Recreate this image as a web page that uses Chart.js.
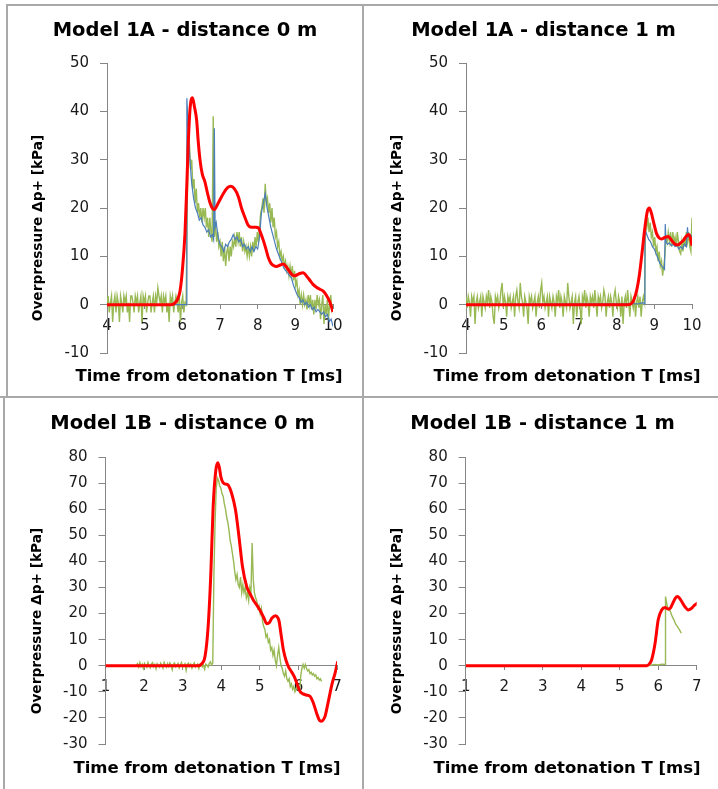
<!DOCTYPE html>
<html><head><meta charset="utf-8">
<script src="https://cdn.jsdelivr.net/npm/chart.js@4.4.1/dist/chart.umd.min.js"></script>
<style>
html,body{margin:0;padding:0;background:#fff;}
body{width:718px;height:789px;position:relative;overflow:hidden;font-family:'DejaVu Sans',sans-serif;}
canvas{position:absolute;display:block;}
.rule{position:absolute;background:#a9a9a9;}
.xt,.yt{position:absolute;font-weight:bold;color:#000;white-space:nowrap;line-height:1;}
.xt{font-size:16.5px;transform:translate(-50%,-50%);}
.yt{font-size:13.7px;transform:translate(-50%,-50%) rotate(-90deg);}
</style></head><body>
<canvas id="cA0" style="left:0;top:0" width="363" height="397"></canvas>
<canvas id="cA1" style="left:363px;top:0" width="355" height="397"></canvas>
<canvas id="cB0" style="left:0;top:397px" width="363" height="392"></canvas>
<canvas id="cB1" style="left:363px;top:397px" width="355" height="392"></canvas>

<div class="rule" style="left:6px;top:4px;width:712px;height:2px"></div>
<div class="rule" style="left:6px;top:4px;width:2px;height:393px"></div>
<div class="rule" style="left:0;top:396px;width:718px;height:2px"></div>
<div class="rule" style="left:362px;top:4px;width:2px;height:785px"></div>
<div class="rule" style="left:3px;top:397px;width:2px;height:392px"></div>

<div class="yt" style="left:38px;top:228px">Overpressure Δp+ [kPa]</div>
<div class="yt" style="left:397px;top:228px">Overpressure Δp+ [kPa]</div>
<div class="yt" style="left:37px;top:621px">Overpressure Δp+ [kPa]</div>
<div class="yt" style="left:397px;top:621px">Overpressure Δp+ [kPa]</div>
<div class="xt" style="left:209px;top:376px">Time from detonation T [ms]</div>
<div class="xt" style="left:567px;top:376px">Time from detonation T [ms]</div>
<div class="xt" style="left:207px;top:768px">Time from detonation T [ms]</div>
<div class="xt" style="left:567px;top:768px">Time from detonation T [ms]</div>

<script>
// ---------- Model 1A - distance 0 m ----------
const A0_RED_T = [4, 5.7, 5.8, 5.88, 5.94, 6.0, 6.07, 6.12, 6.16, 6.21, 6.27, 6.32, 6.38, 6.42, 6.47, 6.53, 6.6, 6.67, 6.73, 6.8, 6.85, 6.95, 7.09, 7.2, 7.29, 7.38, 7.49, 7.57, 7.66, 7.75, 7.84, 7.95, 8.02, 8.08, 8.15, 8.22, 8.28, 8.35, 8.42, 8.5, 8.6, 8.68, 8.78, 8.86, 8.93, 8.99, 9.1, 9.21, 9.3, 9.39, 9.47, 9.56, 9.65, 9.74, 9.82, 9.92, 10];
const A0_RED_P = [0, 0, 0.3, 1.2, 2.9, 7, 14.7, 25, 34, 41, 42.8, 41, 38.2, 34, 29.9, 27, 25.4, 23, 21.2, 19.9, 19.7, 21, 23, 24.2, 24.5, 24, 22.3, 20, 18.1, 16.4, 16, 16, 15.9, 14.8, 13.3, 11.5, 9.8, 8.6, 8.1, 7.9, 8.2, 8.4, 7.6, 6.7, 6.1, 6.0, 6.4, 6.6, 5.9, 5.0, 4.2, 3.6, 3.2, 2.8, 2.0, 0.5, -1.5];
const A0_BLUE_T = [4, 6.10, 6.12, 6.16, 6.2, 6.25, 6.3, 6.35, 6.4, 6.45, 6.5, 6.55, 6.6, 6.65, 6.7, 6.75, 6.8, 6.83, 6.85, 6.87, 6.9, 6.95, 7.0, 7.05, 7.1, 7.15, 7.2, 7.25, 7.3, 7.35, 7.4, 7.45, 7.5, 7.55, 7.6, 7.65, 7.7, 7.75, 7.8, 7.85, 7.9, 7.95, 8.0, 8.05, 8.1, 8.15, 8.2, 8.25, 8.3, 8.35, 8.4, 8.45, 8.5, 8.55, 8.6, 8.65, 8.7, 8.75, 8.8, 8.85, 8.9, 8.95, 9.0, 9.05, 9.1, 9.15, 9.2, 9.25, 9.3, 9.35, 9.4, 9.45, 9.5, 9.55, 9.6, 9.65, 9.7, 9.75, 9.8, 9.85, 9.9, 9.95, 10];
const A0_BLUE_P = [0, 0, 42.7, 36, 30, 25, 22, 20, 19, 17.5, 18, 16.5, 16, 15, 15.5, 14, 14.5, 13.5, 36.5, 16, 17, 14, 12.5, 12, 11, 12.5, 12, 13, 13.5, 14.5, 13.5, 14, 13, 13.5, 12, 12.5, 11.5, 12, 11, 12, 11, 12, 11.5, 14, 19, 21, 23, 20, 18, 16, 14.5, 13, 11.5, 10.5, 9.5, 8.5, 7.5, 7, 6.5, 6, 5.5, 4, 3, 2, 1.5, 0.5, 1, 0, 0.5, -0.5, 0, -1, -0.5, -1.5, -1, -1.5, -2, -1.5, -2.5, -2, -3.5, -3, -4.5];
const GREEN_STEP = 0.03; // sampling interval of the measured (green) records, ms
const A0_GREEN_PRE_START = 4.00;
const A0_GREEN_PRE = [
  0, 1.8, -1.6, 0.4, 1.8, -3.6, 0.4, 1.8, -1.6, 1.8,
  0.4, -3.6, 1.8, 0.4, -1.6, 1.8, 0.4, 1.8, -1.6, 0.4,
  -3.6, 1.8, 1.8, 0.4, -1.6, 1.8, 0.4, 1.8, -1.6, 0.4,
  1.8, -3.6, 1.8, 0.4, 1.8, -1.6, 0.4, 1.8, 1.8, -1.6,
  0.4, 1.8, -1.6, 1.8, 0.4, 3.5, 1.8, 0.4, 1.8, -1.6,
  1.8, 0.4, 1.8, -1.6, 0.4, -3.6, 1.8, 0.4, 1.8, -1.6,
  0.4, 1.8, 0.4, -1.6, 1.8, -3.6, 0.4, 1.8, -1.6, 0.4];
const A0_GREEN_POST_START = 6.10;
const A0_GREEN_POST = [
  0, 20, 36, 33, 28, 30, 24, 26, 21, 24,
  19, 21, 18, 20, 17, 20, 18, 20, 16, 18,
  14, 18, 15, 13, 39, 14, 17, 13, 15, 12,
  13, 10, 13, 9, 12, 8, 11, 12, 9, 12,
  10, 13, 12, 14, 12, 15, 13, 15, 12, 14,
  11, 13, 11, 12, 10, 12, 10, 12, 10, 13,
  11, 14, 12, 15, 13, 16, 19, 20, 22, 19,
  25, 21, 22, 19, 21, 17, 20, 16, 18, 14,
  15, 12, 13, 10, 11, 9, 10, 8, 9, 7,
  8, 6, 8, 6, 8, 5, 7, 4, 5, 2,
  3, 0, 2, 0, 2, 0, 1, -1, 2, 0,
  2, -1, 1, -2, 1, -1, 2, 0, 1, -3,
  0, 2, -4, 0, -2, 1, -3, 0, 2, -1,
  0];

// ---------- Model 1A - distance 1 m ----------
const A1_RED_T = [4, 8.3, 8.4, 8.45, 8.53, 8.6, 8.66, 8.75, 8.82, 8.87, 8.92, 8.97, 9.06, 9.13, 9.19, 9.28, 9.37, 9.45, 9.5, 9.58, 9.64, 9.7, 9.77, 9.85, 9.9, 9.95, 10];
const A1_RED_P = [0, 0, 0.3, 0.9, 2.9, 6, 9.8, 16, 19.5, 20, 19, 17.4, 14.7, 13.8, 13.6, 13.9, 14.1, 13.4, 12.9, 12.4, 12.4, 12.8, 13.3, 14.2, 14.5, 14, 12.2];
const A1_BLUE_T = [4, 8.6, 8.7, 8.74, 8.75, 8.8, 8.85, 8.9, 8.95, 9.0, 9.05, 9.1, 9.15, 9.2, 9.25, 9.27, 9.29, 9.31, 9.35, 9.4, 9.45, 9.5, 9.55, 9.6, 9.65, 9.7, 9.75, 9.8, 9.85, 9.88, 9.9, 9.95, 10];
const A1_BLUE_P = [0, 0.2, 0.4, 0.2, 15.5, 14.5, 13.5, 13, 12, 11.5, 10.5, 9.5, 8.5, 8, 7.5, 7.3, 16.7, 13, 12.5, 12.8, 12.2, 12.5, 12, 12.3, 11.5, 12, 11.5, 12.5, 12, 16, 14, 14.5, 14];
const A1_GREEN_PRE_START = 4.00;
const A1_GREEN_PRE = [
  1.7, -0.7, 1.7, 0.5, -2.5, 1.7, 0.5, 1.7, -4, 0.5,
  1.7, -0.7, 0.5, 1.7, -2.5, 1.7, 0.5, -0.7, 1.7, 0.5,
  3, -0.7, 1.7, 0.5, -2.5, -4, 1.7, 0.5, 1.7, -0.7,
  0.5, 3, 4.5, -0.7, 1.7, 0.5, -2.5, 1.7, 0.5, 1.7,
  -0.7, 0.5, 1.7, -2.5, 1.7, 3, 0.5, -0.7, 4.5, 1.7,
  0.5, -2.5, 1.7, 0.5, -0.7, -4, 1.7, 0.5, 1.7, -0.7,
  0.5, 1.7, -2.5, 0.5, 1.7, -0.7, 3, 4.5, 0.5, 1.7,
  -0.7, 0.5, 1.7, -2.5, 1.7, 0.5, -0.7, 1.7, 0.5, -2.5,
  1.7, 0.5, 3, -0.7, 1.7, 0.5, -2.5, 1.7, 0.5, -0.7,
  4.5, 1.7, -0.7, 0.5, 1.7, -4, 0.5, 1.7, -2.5, 0.5,
  1.7, -0.7, -4, 1.7, 0.5, 3, -0.7, 1.7, 0.5, -2.5,
  1.7, 0.5, 1.7, -0.7, 3, 0.5, -2.5, 1.7, 0.5, 1.7,
  -0.7, 0.5, 3, 1.7, -2.5, 0.5, 1.7, -0.7, 1.7, 0.5,
  -2.5, 1.7, 3, 0.5, -0.7, 1.7, 0.5, -2.5, 1.7, -4,
  0.5, 1.7, -0.7, 3, 0.5, -2.5, 1.7, 0.5, -0.7, 1.7,
  -2.5, 0.5, 1.7, -0.7, 1.7, -2.5, 0.5, 1.7];
const A1_GREEN_POST_START = 8.74;
const A1_GREEN_POST = [
  0.5, 18, 16, 18, 15, 17, 14, 15, 12, 14,
  11, 12, 9, 11, 8, 9, 6, 8, 10, 14,
  13, 15, 13, 15, 12, 15, 13, 14, 12, 15,
  13, 11, 10.5, 13, 11, 14, 12, 15, 13, 15,
  12, 11, 18];

// ---------- Model 1B - distance 0 m ----------
const B0_RED_T = [1, 3.4, 3.5, 3.58, 3.66, 3.73, 3.79, 3.86, 3.91, 3.95, 3.99, 4.05, 4.12, 4.18, 4.27, 4.37, 4.46, 4.55, 4.66, 4.75, 4.83, 4.92, 5.0, 5.1, 5.18, 5.25, 5.31, 5.41, 5.47, 5.5, 5.55, 5.61, 5.68, 5.74, 5.82, 5.89, 5.96, 6.04, 6.12, 6.2, 6.3, 6.38, 6.47, 6.53, 6.58, 6.63, 6.69, 6.75, 6.82, 6.88, 6.95, 7.02];
const B0_RED_P = [0, 0, 0.8, 3.6, 15, 35.4, 60.9, 75, 77.8, 76, 72.4, 70.1, 69.6, 69.2, 66, 59.7, 49.4, 38, 30.3, 27.5, 25.2, 23.2, 21.4, 18.5, 16.1, 16.6, 18.2, 19.2, 18.3, 17, 12, 6.1, 2, -0.3, -2.3, -4.1, -6.8, -9.8, -10.8, -11.2, -11.7, -14, -18.1, -20.5, -21.3, -21, -19.4, -15.5, -10.5, -6.5, -2.8, 1.7];
const B0_GREEN_PRE_START = 1.80;
const B0_GREEN_PRE = [
  0.3, 0.8, -0.5, 1.2, -0.3, 0.6, -1, 0.9, 0.2, -0.6,
  1.3, 0.1, -0.8, 0.7, 1.2, -0.4, 0.5, -1.2, 0.8, 0.2,
  -0.5, 1, 0.3, -0.9, 1.3, 0.2, -0.6, 0.8, -0.3, 1.1,
  0.2, -1.5, 0.6, 1, -0.4, 0.3, 0.9, -0.8, 0.4, 1.2,
  -0.6, 0.2, 0.8, -1.8, 0.5, 1, -0.3, 0.6, -0.9, 0.4,
  1.1, -0.5, 0.2, 0.7, -1.1, 0.5, 0.9, -0.4, 0.3, -1.3,
  0.6, 0.2, -0.5, 0.9, 1.5, 0.3];
const B0_GREEN_POST_START = 3.78;
const B0_GREEN_POST = [
  1, 35, 55, 68, 72, 71, 69, 68, 66, 65,
  62, 60, 57, 55, 52, 48, 46, 43, 40, 36,
  33, 35, 31, 30, 34, 28, 31, 28, 30, 26,
  28, 25, 30, 28, 47, 33, 28, 26, 25, 22,
  23, 20, 22, 17, 15, 14, 11, 12, 9, 10,
  6, 7, 4, 6, 2, 0, 4, 7, 3, 0,
  -1, -3, -4, -2, -5, -6, -5, -8, -7, -9,
  -8, -10, -9, -7, -9, -10, -4, -1, 0.5, -1,
  0.5, -1, -2, -1.5, -3, -2.5, -3.5, -3, -4, -3.5,
  -5, -4.5, -5.5, -5, -6];

// ---------- Model 1B - distance 1 m ----------
const B1_RED_T = [1, 5.7, 5.77, 5.83, 5.92, 6.0, 6.09, 6.18, 6.26, 6.32, 6.38, 6.45, 6.5, 6.55, 6.61, 6.7, 6.78, 6.85, 6.91, 6.97, 7.04];
const B1_RED_P = [0, 0, 0.7, 2.3, 8.7, 17.6, 21.4, 22.3, 21.7, 22.2, 24, 26, 26.5, 26, 24.6, 22.5, 21.4, 21.8, 22.7, 23.5, 24.2];
const B1_GREEN_T = [5.5, 5.8, 5.9, 6.0, 6.1, 6.18, 6.19, 6.22, 6.26, 6.31, 6.36, 6.41, 6.45, 6.5, 6.55, 6.6];
const B1_GREEN_P = [0, 0.2, 0.5, 0.3, 0.6, 0.5, 26.5, 24, 21.5, 21, 19, 17.5, 16, 15, 13.8, 12.5];

// ---------- axis ranges & tick labels ----------
const A_X_RANGE = [4, 10], A_Y_RANGE = [-10, 50];
const B_X_RANGE = [1, 7], B_Y_RANGE = [-30, 80];
const X_TICK_STEP = 1, Y_TICK_STEP = 10;
const TITLES = ['Model 1A - distance 0 m', 'Model 1A - distance 1 m', 'Model 1B - distance 0 m', 'Model 1B - distance 1 m'];

function pairs(ts, ps) { return ts.map((t, i) => ({x: t, y: ps[i]})); }
function sampled(start, step, ps) { return ps.map((p, i) => ({x: +(start + i * step).toFixed(3), y: p})); }

Chart.defaults.font.family = "'DejaVu Sans', sans-serif";

function makeChart(id, cfg) {
  const sets = [
    {data: cfg.red, borderColor: '#ff0000', borderWidth: 3, cubicInterpolationMode: 'monotone'}
  ];
  if (cfg.blue) sets.push({data: cfg.blue, borderColor: '#4a7ebb', borderWidth: 1.2});
  sets.push({data: cfg.green, borderColor: '#98b954', borderWidth: 1.4});
  new Chart(document.getElementById(id), {
    type: 'line',
    data: {datasets: sets},
    options: {
      responsive: false, animation: false, devicePixelRatio: 1, events: [],
      elements: {point: {radius: 0}, line: {tension: 0}},
      layout: {padding: cfg.pad},
      plugins: {
        legend: {display: false}, tooltip: {enabled: false},
        title: {display: true, text: cfg.title, color: '#000',
          font: {size: 19.5, weight: 'bold'}, padding: cfg.titlePad}
      },
      scales: {
        x: {type: 'linear', min: cfg.xr[0], max: cfg.xr[1], position: {y: 0},
          ticks: {stepSize: X_TICK_STEP, color: '#1a1a1a', font: {size: 15}, padding: 8, maxRotation: 0, autoSkip: false},
          grid: {drawOnChartArea: false, drawTicks: true, tickLength: 4, color: '#868686'},
          border: {display: true, color: '#868686', width: 1}},
        y: {type: 'linear', min: cfg.yr[0], max: cfg.yr[1], position: 'left',
          ticks: {stepSize: Y_TICK_STEP, color: '#1a1a1a', font: {size: 15}, padding: 11},
          grid: {drawOnChartArea: false, drawTicks: true, tickLength: 7, color: '#868686'},
          border: {display: true, color: '#868686', width: 1},
          afterFit: (s) => { s.width = cfg.yW; }}
      }
    }
  });
}

makeChart('cA0', {
  title: TITLES[0], xr: A_X_RANGE, yr: A_Y_RANGE,
  red: pairs(A0_RED_T, A0_RED_P),
  blue: pairs(A0_BLUE_T, A0_BLUE_P),
  green: sampled(A0_GREEN_PRE_START, GREEN_STEP, A0_GREEN_PRE).concat(sampled(A0_GREEN_POST_START, GREEN_STEP, A0_GREEN_POST)),
  pad: {left: 37, right: 30, top: 0, bottom: 44}, yW: 70, titlePad: {top: 19.3, bottom: 20.3}
});
makeChart('cA1', {
  title: TITLES[1], xr: A_X_RANGE, yr: A_Y_RANGE,
  red: pairs(A1_RED_T, A1_RED_P),
  blue: pairs(A1_BLUE_T, A1_BLUE_P),
  green: sampled(A1_GREEN_PRE_START, GREEN_STEP, A1_GREEN_PRE).concat(sampled(A1_GREEN_POST_START, GREEN_STEP, A1_GREEN_POST)),
  pad: {left: 32, right: 26, top: 0, bottom: 44}, yW: 71, titlePad: {top: 19.3, bottom: 20.3}
});
makeChart('cB0', {
  title: TITLES[2], xr: B_X_RANGE, yr: B_Y_RANGE,
  red: pairs(B0_RED_T, B0_RED_P),
  green: sampled(B0_GREEN_PRE_START, GREEN_STEP, B0_GREEN_PRE).concat(sampled(B0_GREEN_POST_START, GREEN_STEP, B0_GREEN_POST)),
  pad: {left: 28, right: 26, top: 0, bottom: 45}, yW: 77.5, titlePad: {top: 15.3, bottom: 21.3}
});
makeChart('cB1', {
  title: TITLES[3], xr: B_X_RANGE, yr: B_Y_RANGE,
  red: pairs(B1_RED_T, B1_RED_P),
  green: pairs(B1_GREEN_T, B1_GREEN_P),
  pad: {left: 25.3, right: 21.3, top: 0, bottom: 45}, yW: 77.4, titlePad: {top: 15.3, bottom: 21.3}
});
</script>
</body></html>
